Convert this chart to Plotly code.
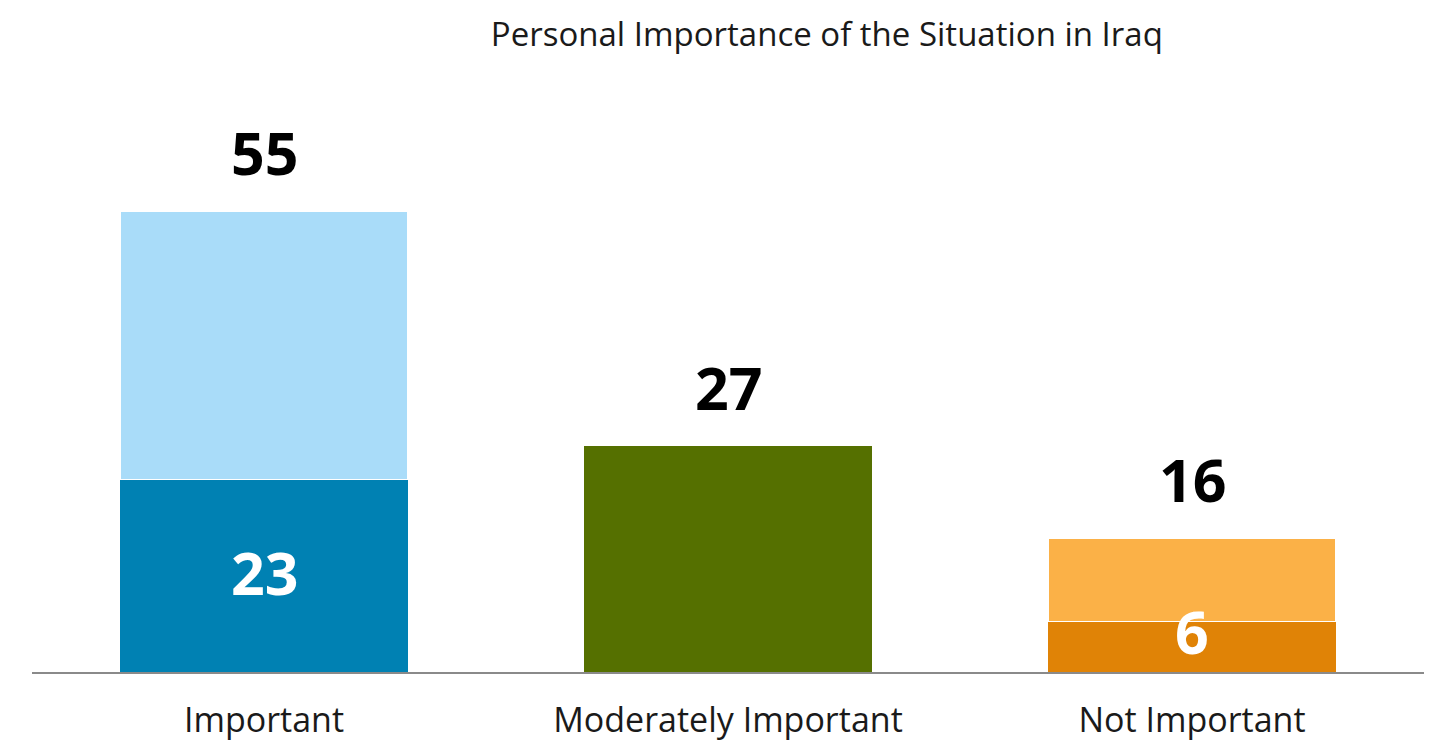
import plotly.graph_objects as go

# Survey shares (percent)
categories = ["Important", "Moderately Important", "Not Important"]
totals = [55, 27, 16]
lower_part = [23, 27, 6]          # "very" / "not at all" portion, drawn at the base
inner_labels = ["23", "", "6"]    # numbers printed inside the base segment

lower_colors = ["#0081B3", "#557000", "#E08306"]
upper_colors = ["#A9DCF9", "#557000", "#FBB147"]

upper_part = [t - l for t, l in zip(totals, lower_part)]

FONT = "Open Sans"

fig = go.Figure()
fig.add_trace(go.Bar(
    x=categories, y=lower_part,
    marker=dict(color=lower_colors, line=dict(width=0)),
    width=0.62, hoverinfo="skip",
))
fig.add_trace(go.Bar(
    x=categories, y=upper_part,
    marker=dict(color=upper_colors, line=dict(color="white", width=1.5)),
    width=0.62, hoverinfo="skip",
))

# totals above each bar
for c, t in zip(categories, totals):
    fig.add_annotation(
        x=c, y=t, text=f"<b>{t}</b>", showarrow=False,
        yanchor="middle", yshift=59,
        font=dict(family=FONT, size=59, color="black"),
    )

# values inside the base segment
for c, l, lab in zip(categories, lower_part, inner_labels):
    if lab:
        fig.add_annotation(
            x=c, y=l / 2, text=f"<b>{lab}</b>", showarrow=False,
            yshift=4 if l > 10 else 16,
            font=dict(family=FONT, size=59, color="white"),
        )

fig.update_layout(
    barmode="stack",
    width=1438, height=744,
    margin=dict(l=32, r=14, t=40, b=72),
    paper_bgcolor="white", plot_bgcolor="white",
    showlegend=False,
    title=dict(
        text="Personal Importance of the Situation in Iraq",
        x=0.575, xanchor="center", y=0.954, yanchor="middle",
        font=dict(family=FONT, size=33, color="#1a1a1a"),
    ),
    xaxis=dict(
        showline=True, linecolor="#8a8a8a", linewidth=2,
        ticks="", ticklabelstandoff=17, automargin=False,
        tickfont=dict(family=FONT, size=34, color="#1a1a1a"),
        showgrid=False,
    ),
    yaxis=dict(
        range=[0, 632 / 8.38], visible=False, showgrid=False, zeroline=False,
        automargin=False,
    ),
)

fig.write_html("out.html")
